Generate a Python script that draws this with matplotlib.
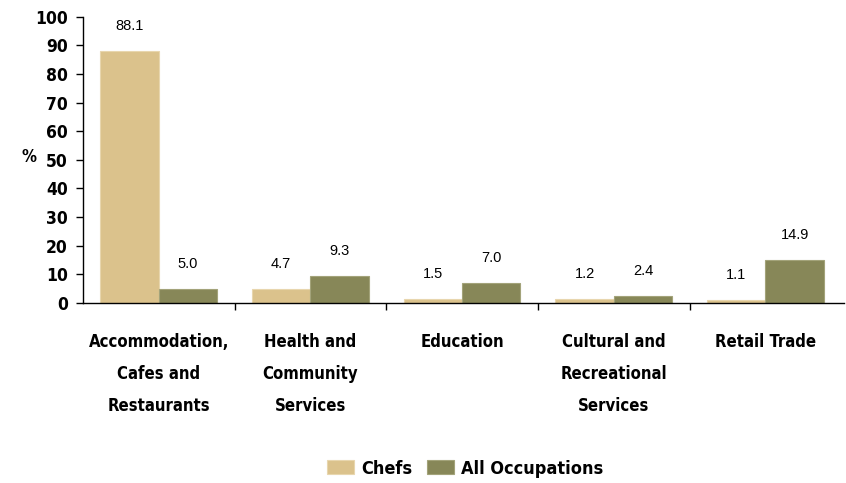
import numpy as np
import matplotlib
matplotlib.use('Agg')
import matplotlib.pyplot as plt

# Industry shares of employment, chefs vs all occupations
industries = ['Accommodation,\nCafes and\nRestaurants', 'Health and\nCommunity\nServices',
              'Education', 'Cultural and\nRecreational\nServices', 'Retail Trade']
chefs = [88.1, 4.7, 1.5, 1.2, 1.1]
all_occupations = [5.0, 9.3, 7.0, 2.4, 14.9]
series_names = ['Chefs', 'All Occupations']

bold_font = dict(family='DejaVu Sans', stretch='condensed', weight='bold')

fig = plt.figure(figsize=(8.46, 4.83), dpi=100)
ax = fig.add_axes([0.098, 0.373, 0.9, 0.592])

x = np.arange(len(industries))
w = 0.385
b1 = ax.bar(x - w/2, chefs, w, color='#DBC28C', edgecolor='#E8D6AE', linewidth=0.8, label=series_names[0])
b2 = ax.bar(x + w/2, all_occupations, w, color='#878758', edgecolor='#A3A37A', linewidth=0.8, label=series_names[1])

for bars, vals in [(b1, chefs), (b2, all_occupations)]:
    for bar, v in zip(bars, vals):
        ax.text(bar.get_x() + bar.get_width()/2, v + 6.3, f'{v:.1f}',
                ha='center', va='bottom', fontsize=10.5, family='Liberation Sans')

ax.set_xlim(-0.5, len(industries) - 0.48)
ax.set_ylim(0, 100)
ax.set_yticks(range(0, 101, 10))
ax.set_yticklabels([str(t) for t in range(0, 101, 10)], fontsize=12.5, **bold_font)
ax.set_xticks(x[:-1] + 0.5, minor=True)
ax.set_xticks(x)
ax.set_xticklabels(industries, fontsize=12, linespacing=2.0, va='top', **bold_font)
ax.tick_params(axis='x', which='major', length=0, pad=22)
ax.tick_params(axis='x', which='minor', length=5, direction='out', width=1)
ax.tick_params(axis='y', length=5, width=1, pad=6)
for s in ['top', 'right']:
    ax.spines[s].set_visible(False)
for s in ['left', 'bottom']:
    ax.spines[s].set_linewidth(1)

fig.text(0.025, 0.665, '%', fontsize=12, **bold_font)

fig.legend(handles=[b1, b2], loc='center', bbox_to_anchor=(0.55, 0.03), ncol=2,
           frameon=False, prop=dict(size=13, **bold_font), handlelength=1.5,
           handleheight=0.8, handletextpad=0.4, columnspacing=0.8)

fig.savefig('out.png', dpi=100)
